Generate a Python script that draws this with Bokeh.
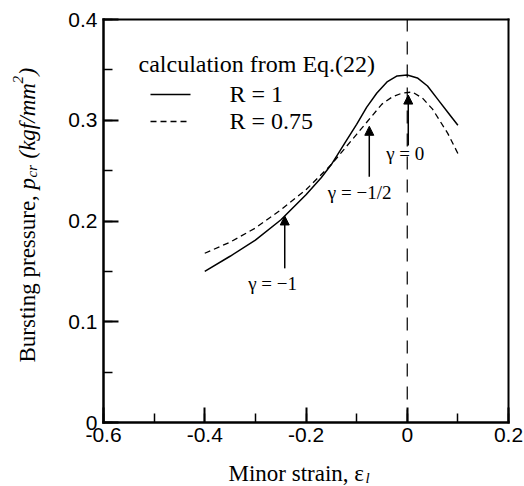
import math
from bokeh.plotting import figure
from bokeh.models import (FixedTicker, CustomJSTickFormatter, Arrow, NormalHead, Label,
                          LinearAxis, Range1d)
from bokeh.embed import file_html
from bokeh.resources import INLINE

# ---- data ----
solid_x = [-0.40, -0.35, -0.30, -0.25, -0.20, -0.17, -0.15, -0.12, -0.10, -0.08, -0.06, -0.04, -0.02, 0.00, 0.02, 0.04, 0.06, 0.08, 0.10]
solid_y = [0.150, 0.165, 0.181, 0.201, 0.226, 0.243, 0.256, 0.280, 0.296, 0.313, 0.327, 0.338, 0.344, 0.345, 0.342, 0.334, 0.321, 0.308, 0.295]

dash_x = [-0.40, -0.35, -0.30, -0.25, -0.20, -0.15, -0.12, -0.10, -0.08, -0.05, -0.03, -0.01, 0.01, 0.03, 0.05, 0.08, 0.10]
dash_y = [0.168, 0.179, 0.193, 0.211, 0.231, 0.256, 0.274, 0.286, 0.298, 0.316, 0.323, 0.327, 0.328, 0.322, 0.311, 0.287, 0.267]

zero_x = [0.0, 0.0]
zero_y = [0.0, 0.4]

arrow_x = [-0.242, -0.075, 0.002]
arrow_y0 = [0.153, 0.244, 0.275]
arrow_y1 = [0.205, 0.294, 0.325]

gamma_labels = ["γ = −1", "γ = −1/2", "γ = 0"]
gamma_lx = [-0.266, -0.094, -0.004]
gamma_ly = [0.138, 0.228, 0.267]

x_ticks = [-0.6, -0.4, -0.2, 0.0, 0.2]
y_ticks = [0.0, 0.1, 0.2, 0.3, 0.4]

legend_title = "calculation from Eq.(22)"
legend_names = ["R = 1", "R = 0.75"]

SERIF = "Liberation Serif"
SANS = "Liberation Sans"

# ---- layout (pixels) ----
W, H = 524, 486
FL, FR, FT, FB = 103, 508, 19, 422      # where the data box sits on the canvas
XMIN, XMAX, YMIN, YMAX = -0.6, 0.2, 0.0, 0.4
kx = (FR - FL) / (XMAX - XMIN)
ky = (FB - FT) / (YMAX - YMIN)
x_range = Range1d(XMIN - FL / kx, XMAX + (W - FR) / kx)
y_range = Range1d(YMIN - (H - FB) / ky, YMAX + FT / ky)

p = figure(width=W, height=H, x_range=x_range, y_range=y_range,
           output_backend="svg", toolbar_location=None, min_border=0)
p.background_fill_color = "white"
p.border_fill_color = "white"
p.grid.visible = False
p.outline_line_color = None

fmt = CustomJSTickFormatter(code="var s = tick.toFixed(1); return (s === '0.0' || s === '-0.0') ? '0' : s;")

def minor(ticks):
    step = (ticks[1] - ticks[0]) / 2
    return [round(ticks[0] + i * step, 3) for i in range(2 * len(ticks) - 1)]

for ax, ticks, loc, bnds in ((p.xaxis, x_ticks, YMIN, (XMIN, XMAX)), (p.yaxis, y_ticks, XMIN, (YMIN, YMAX))):
    ax.fixed_location = loc
    ax.bounds = bnds
    ax.ticker = FixedTicker(ticks=ticks, minor_ticks=minor(ticks))
    ax.formatter = fmt
    ax.axis_line_width = 2.5
    ax.axis_line_color = "black"
    ax.axis_line_cap = "square"
    ax.major_tick_in = 15
    ax.major_tick_out = 0
    ax.minor_tick_in = 9
    ax.minor_tick_out = 0
    ax.major_tick_line_width = 2
    ax.minor_tick_line_width = 1.5
    ax.major_label_text_font = SANS
    ax.major_label_text_font_size = "21px"
    ax.major_label_text_color = "black"
p.xaxis.major_label_standoff = 5
p.yaxis.major_label_standoff = 6

# top and right edges of the box
for place, loc, bnds in (("above", YMAX, (XMIN, XMAX)), ("right", XMAX, (YMIN, YMAX))):
    edge = LinearAxis(fixed_location=loc, bounds=bnds, ticker=FixedTicker(ticks=[]),
                      axis_line_width=2, axis_line_color="black", axis_line_cap="square",
                      major_tick_in=0, major_tick_out=0, minor_tick_in=0, minor_tick_out=0,
                      major_label_text_font_size="0px")
    p.add_layout(edge, place)

# curves
p.line(solid_x, solid_y, line_color="black", line_width=1.5)
p.line(dash_x, dash_y, line_color="black", line_width=1.3, line_dash="6 4")

# vertical dashed line at zero strain
p.line(zero_x, zero_y, line_color="black", line_width=1.2, line_dash="13 10")

# arrows
for ax_, y0, y1 in zip(arrow_x, arrow_y0, arrow_y1):
    p.add_layout(Arrow(end=NormalHead(size=9, fill_color="black", line_color="black"),
                       x_start=ax_, y_start=y0, x_end=ax_, y_end=y1,
                       line_color="black", line_width=1.5))

for t, lx, ly in zip(gamma_labels, gamma_lx, gamma_ly):
    p.add_layout(Label(x=lx, y=ly, text=t, text_align="center", text_baseline="middle",
                       text_font=SERIF, text_font_size="19px", text_color="black"))

# legend (drawn manually, in screen pixels of the canvas)
def sx(px):
    return px
def sy(py):
    return H - py

p.add_layout(Label(x=sx(138), y=sy(63), x_units="screen", y_units="screen", text=legend_title,
                   text_align="left", text_baseline="middle",
                   text_font=SERIF, text_font_size="24px", text_color="black"))
leg_py = [94, 121]
leg_x = [(150 - FL) / kx + XMIN, (190 - FL) / kx + XMIN]
leg_y = [YMAX - (py - FT) / ky for py in leg_py]
p.line(leg_x, [leg_y[0], leg_y[0]], line_color="black", line_width=1.5)
p.line(leg_x, [leg_y[1], leg_y[1]], line_color="black", line_width=1.3, line_dash="6 4")
for name, py in zip(legend_names, leg_py):
    p.add_layout(Label(x=sx(229), y=sy(py - 1), x_units="screen", y_units="screen", text=name,
                       text_align="left", text_baseline="middle",
                       text_font=SERIF, text_font_size="24px", text_color="black"))

# x-axis title
p.add_layout(Label(x=sx(228), y=sy(473), x_units="screen", y_units="screen", text="Minor strain, ε",
                   text_align="left", text_baseline="alphabetic",
                   text_font=SERIF, text_font_size="23px", text_color="black"))
p.add_layout(Label(x=sx(365), y=sy(477), x_units="screen", y_units="screen", text="l",
                   text_align="left", text_baseline="alphabetic", text_font_style="italic",
                   text_font=SERIF, text_font_size="15px", text_color="black"))

# y-axis title, rotated, reading bottom to top
ang = math.pi / 2
bx = 27
ytitle = [
    ("Bursting pressure,", bx, 362, "23px", "normal"),
    ("p", bx, 189, "23px", "italic"),
    ("cr", bx + 4, 177, "15px", "italic"),
    ("(kgf/mm", bx, 158, "23px", "italic"),
    ("2", bx - 10, 83, "15px", "italic"),
    (")", bx, 75, "23px", "italic"),
]
for t, x_, py, fs, st in ytitle:
    p.add_layout(Label(x=sx(x_), y=sy(py), x_units="screen", y_units="screen", text=t,
                       angle=ang, text_align="left", text_baseline="alphabetic",
                       text_font_style=st, text_font=SERIF, text_font_size=fs, text_color="black"))

open("out.html", "w").write(file_html(p, INLINE))
